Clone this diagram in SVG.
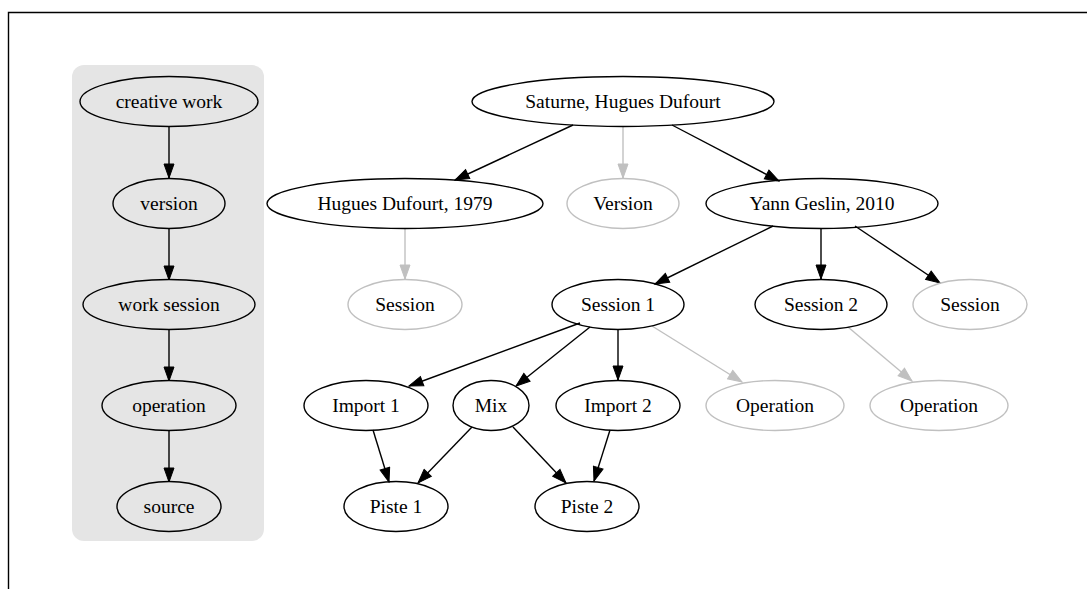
<svg xmlns="http://www.w3.org/2000/svg" width="1087" height="589" viewBox="0 0 1087 589">
<style>
.n ellipse{fill:none;stroke:#000;stroke-width:1.4}
.g ellipse{fill:none;stroke:#c0c0c0;stroke-width:1.4}
text{font-family:"Liberation Serif","Times New Roman",serif;font-size:19.5px;fill:#000;text-anchor:middle}
.e{stroke:#000;stroke-width:1.4;fill:none;marker-end:url(#ab)}
.eg{stroke:#c0c0c0;stroke-width:1.4;fill:none;marker-end:url(#ag)}
</style>
<defs>
<marker id="ab" markerUnits="userSpaceOnUse" markerWidth="16" markerHeight="12" viewBox="-1 -1 16 12" refX="14" refY="5" orient="auto"><path d="M0,0 L14,5 L0,10 z" fill="#000" stroke="#000" stroke-width="1"/></marker>
<marker id="ag" markerUnits="userSpaceOnUse" markerWidth="16" markerHeight="12" viewBox="-1 -1 16 12" refX="14" refY="5" orient="auto"><path d="M0,0 L14,5 L0,10 z" fill="#c0c0c0" stroke="#c0c0c0" stroke-width="1"/></marker>
</defs>
<rect x="0" y="0" width="1087" height="589" fill="#fff"/>
<path d="M8.5,589 V12.5 H1087" fill="none" stroke="#000" stroke-width="1.4"/>
<g id="legend">
<rect x="72" y="65" width="192" height="476" rx="12" fill="#e5e5e5"/>
</g>
<g id="edges">
<line class="e" x1="169" y1="127" x2="169" y2="178"/>
<line class="e" x1="169" y1="229" x2="169" y2="280"/>
<line class="e" x1="169" y1="330" x2="169" y2="381"/>
<line class="e" x1="169" y1="431" x2="169" y2="482"/>
<line class="e" x1="573" y1="125" x2="455" y2="180"/>
<line class="eg" x1="623" y1="127" x2="623" y2="178"/>
<line class="e" x1="672" y1="125" x2="779" y2="181"/>
<line class="eg" x1="405" y1="229" x2="405" y2="279"/>
<line class="e" x1="773" y1="226" x2="655" y2="284"/>
<line class="e" x1="821" y1="229" x2="821" y2="279"/>
<line class="e" x1="855" y1="226" x2="940" y2="283"/>
<line class="e" x1="580" y1="323" x2="409" y2="386"/>
<line class="e" x1="590" y1="327" x2="516" y2="386"/>
<line class="e" x1="618" y1="330" x2="618" y2="380"/>
<line class="eg" x1="652" y1="326" x2="742" y2="382"/>
<line class="eg" x1="848" y1="327" x2="912" y2="381"/>
<line class="e" x1="373" y1="430" x2="389" y2="482"/>
<line class="e" x1="472" y1="427" x2="418" y2="483"/>
<line class="e" x1="513" y1="427" x2="566" y2="483"/>
<line class="e" x1="610" y1="430" x2="594" y2="481"/>
</g>
<g id="n-creative-work" class="n"><ellipse cx="169" cy="101.5" rx="89" ry="25"/><text x="169" y="108">creative work</text></g>
<g id="n-version" class="n"><ellipse cx="169" cy="203.5" rx="56" ry="25"/><text x="169" y="210">version</text></g>
<g id="n-work-session" class="n"><ellipse cx="169" cy="304.5" rx="86" ry="25"/><text x="169" y="311">work session</text></g>
<g id="n-operation" class="n"><ellipse cx="169" cy="405.5" rx="67" ry="25"/><text x="169" y="412">operation</text></g>
<g id="n-source" class="n"><ellipse cx="169" cy="506.5" rx="52" ry="25"/><text x="169" y="513">source</text></g>
<g id="n-saturne" class="n"><ellipse cx="623" cy="101.5" rx="151" ry="25"/><text x="623" y="108">Saturne, Hugues Dufourt</text></g>
<g id="n-hd1979" class="n"><ellipse cx="405" cy="203.5" rx="138" ry="25"/><text x="405" y="210">Hugues Dufourt, 1979</text></g>
<g id="n-version-g" class="g"><ellipse cx="623" cy="203.5" rx="56" ry="25"/><text x="623" y="210">Version</text></g>
<g id="n-yg2010" class="n"><ellipse cx="822" cy="203.5" rx="116" ry="25"/><text x="822" y="210">Yann Geslin, 2010</text></g>
<g id="n-session-g1" class="g"><ellipse cx="405" cy="304.5" rx="57" ry="25"/><text x="405" y="311">Session</text></g>
<g id="n-session1" class="n"><ellipse cx="618" cy="304.5" rx="66" ry="25"/><text x="618" y="311">Session 1</text></g>
<g id="n-session2" class="n"><ellipse cx="821" cy="304.5" rx="66" ry="25"/><text x="821" y="311">Session 2</text></g>
<g id="n-session-g2" class="g"><ellipse cx="970" cy="304.5" rx="57" ry="25"/><text x="970" y="311">Session</text></g>
<g id="n-import1" class="n"><ellipse cx="366" cy="405.5" rx="62" ry="25"/><text x="366" y="412">Import 1</text></g>
<g id="n-mix" class="n"><ellipse cx="491" cy="405.5" rx="38" ry="25"/><text x="491" y="412">Mix</text></g>
<g id="n-import2" class="n"><ellipse cx="618" cy="405.5" rx="62" ry="25"/><text x="618" y="412">Import 2</text></g>
<g id="n-operation-g1" class="g"><ellipse cx="775" cy="405.5" rx="69" ry="25"/><text x="775" y="412">Operation</text></g>
<g id="n-operation-g2" class="g"><ellipse cx="939" cy="405.5" rx="69" ry="25"/><text x="939" y="412">Operation</text></g>
<g id="n-piste1" class="n"><ellipse cx="396" cy="506.5" rx="52" ry="25"/><text x="396" y="513">Piste 1</text></g>
<g id="n-piste2" class="n"><ellipse cx="587" cy="506.5" rx="52" ry="25"/><text x="587" y="513">Piste 2</text></g>
</svg>
